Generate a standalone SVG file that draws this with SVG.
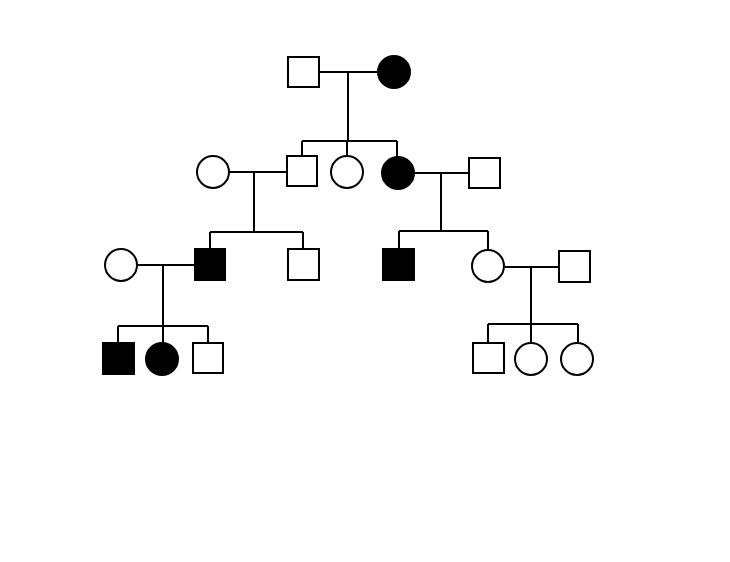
<svg xmlns="http://www.w3.org/2000/svg" width="730" height="562" viewBox="0 0 730 562">
<style>
.o{fill:#fff;stroke:#000;stroke-width:2}
.f{fill:#000;stroke:#000;stroke-width:2}
.c{fill:none;stroke:#000;stroke-width:2}
</style>
<rect width="730" height="562" fill="#fff"/>
<g id="connectors" class="c">
<path d="M319 72H377 M348 72V141 M302 141H397 M302 141V156 M347 141V156 M397 141V157"/>
<path d="M229 172H287 M254 172V232 M210 232H303 M210 232V249 M303 232V249"/>
<path d="M414 173H469 M441 173V231 M399 231H488 M399 231V249 M488 231V249"/>
<path d="M138 265H194 M163 265V326 M118 326H208 M118 326V343 M163 326V343 M208 326V343"/>
<path d="M505 267H559 M531 267V324 M488 324H578 M488 324V343 M531 324V343 M578 324V343"/>
</g>
<g id="g1m"><rect class="o" x="288" y="57" width="31" height="30"/></g>
<g id="g1f"><circle class="f" cx="394" cy="72" r="16"/></g>
<g id="g2wife"><circle class="o" cx="213" cy="172" r="16"/></g>
<g id="g2son"><rect class="o" x="287" y="156" width="30" height="30"/></g>
<g id="g2dau"><circle class="o" cx="347" cy="172" r="16"/></g>
<g id="g2dauA"><circle class="f" cx="398" cy="173" r="16"/></g>
<g id="g2hus"><rect class="o" x="469" y="158" width="31" height="30"/></g>
<g id="g3wife"><circle class="o" cx="121" cy="265" r="16"/></g>
<g id="g3sonA"><rect class="f" x="195" y="249" width="30" height="31"/></g>
<g id="g3son2"><rect class="o" x="288" y="249" width="31" height="31"/></g>
<g id="g3sonB"><rect class="f" x="383" y="249" width="31" height="31"/></g>
<g id="g3dau"><circle class="o" cx="488" cy="266" r="16"/></g>
<g id="g3hus"><rect class="o" x="559" y="251" width="31" height="31"/></g>
<g id="g4sonA"><rect class="f" x="103" y="343" width="31" height="31"/></g>
<g id="g4dauA"><circle class="f" cx="162" cy="359" r="16"/></g>
<g id="g4son"><rect class="o" x="193" y="343" width="30" height="30"/></g>
<g id="g4son2"><rect class="o" x="473" y="343" width="31" height="30"/></g>
<g id="g4dau1"><circle class="o" cx="531" cy="359" r="16"/></g>
<g id="g4dau2"><circle class="o" cx="577" cy="359" r="16"/></g>
</svg>
